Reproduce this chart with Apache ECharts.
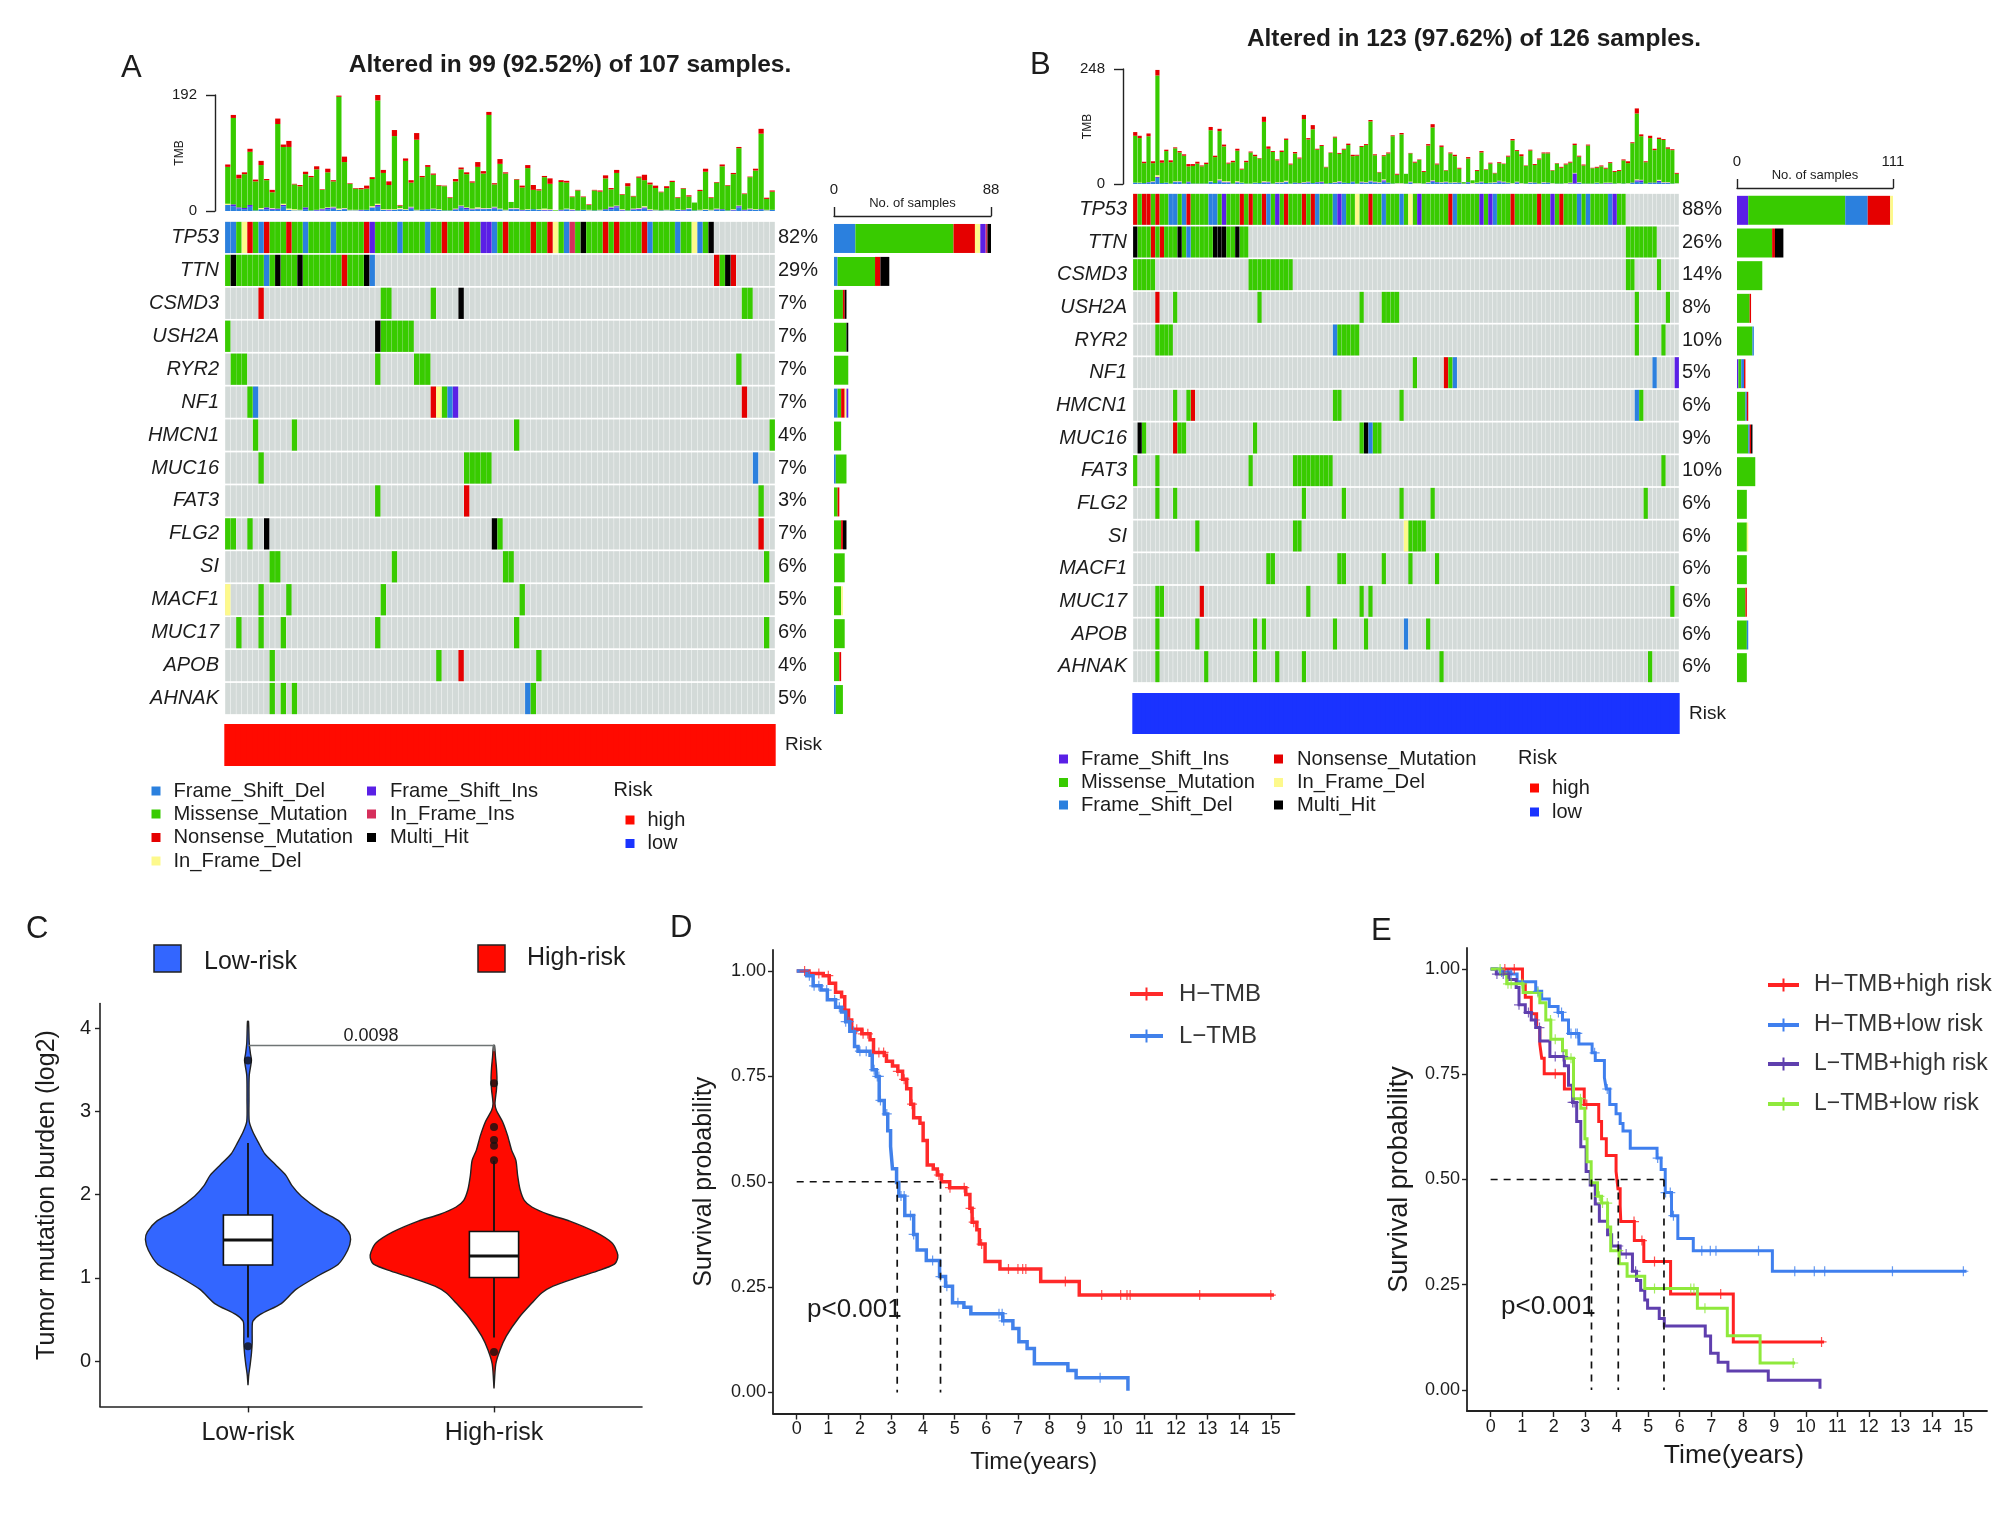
<!DOCTYPE html>
<html><head><meta charset="utf-8">
<script src="https://cdn.jsdelivr.net/npm/echarts@6/dist/echarts.min.js"></script>
<style>html,body{margin:0;padding:0;background:#fff}#c{width:2008px;height:1535px}</style></head>
<body><div id="c"></div>
<script>
const FONT = '"Liberation Sans", Arial, sans-serif';
const COLORS = {D:'#2b80de',M:'#38cb00',N:'#e50000',F:'#fdf98c',I:'#5a20e6',R:'#d62f5c',H:'#000000'};
const NAMES = {D:'Frame_Shift_Del',M:'Missense_Mutation',N:'Nonsense_Mutation',F:'In_Frame_Del',I:'Frame_Shift_Ins',R:'In_Frame_Ins',H:'Multi_Hit'};

// ---------- Panel A ----------
const genesA = ['TP53','TTN','CSMD3','USH2A','RYR2','NF1','HMCN1','MUC16','FAT3','FLG2','SI','MACF1','MUC17','APOB','AHNAK'];
const pctA = ['82%','29%','7%','7%','7%','7%','4%','7%','3%','7%','6%','5%','6%','4%','5%'];
const mutA = [
 'D0-1 M2 F3 N4 M5 D6 N7 M8-10 N11 M12-13 D14 M15-18 D19 M20-24 N25 I26 M27-30 D31 M32-35 D36 M37-38 N39 M40-42 N43 M44-45 I46-47 D48 M49 N50 M51-54 N55 M56-57 N58 F59 M60 D61 R62 M63 H64 M65-67 N68 M69 N70 M71-74 N75 D76 M77-80 D81 M82-83 F84 D85 M86 H87',
 'M0 H1 M2-6 D7 M8 H9 M10-12 H13 M14-20 N21 M22-24 H25 D26 N88 M89 H90 N91',
 'N6 M28-29 M37 H42 M93-94',
 'M0 H27 M28-33',
 'M1-3 M27 M34-36 M92',
 'M4 D5 N37 F38 M39 D40 I41 N93',
 'M5 M12 M52 M98',
 'M6 M43-47 D95',
 'M27 N43 M96',
 'M0-1 M4 H7 H48 M49 N96',
 'M8-9 M30 M50-51 M97',
 'F0 M6 M11 M28 M53',
 'M2 M6 M10 M27 M52 M97',
 'M8 M38 N42 M56',
 'M8 M10 M12 D54 M55'
];
const tmbTotalA = [77,159,60,64,103,52,83,53,35,153, 110,116,45,43,65,58,74,36,70,51, 191,90,46,38,38,42,56,192,68,49, 134,10,87,51,129,58,76,62,43,42, 23,53,72,64,49,81,66,164,46,86, 64,15,53,42,76,43,36,58,54,1, 51,50,24,35,24,11,35,34,59,38, 68,28,46,25,57,60,47,42,32,41, 50,23,38,26,14,35,70,23,48,77, 43,63,106,29,57,70,136,22,34];
const tmbNonsenseA = [4,5,6,3,5,3,7,2,4,9, 4,10,1,2,4,2,5,1,6,2, 2,9,1,1,2,5,3,9,5,6, 10,1,4,4,11,2,3,2,1,1, 1,4,3,3,2,8,4,5,2,8, 2,0,1,3,5,8,2,2,9,0, 3,3,1,1,1,1,1,2,5,2, 5,1,5,1,2,9,3,4,1,3, 2,1,1,2,0,2,5,1,1,3, 1,2,2,1,1,3,8,2,2];
const tmbDelA = [10,8,4,3,7,1,3,3,2,2, 8,2,1,1,3,1,1,1,3,4, 2,3,1,1,1,2,5,7,2,1, 2,3,2,4,1,2,3,2,2,1, 1,2,6,3,2,3,3,4,4,3, 1,3,3,1,2,3,2,1,1,0, 1,3,1,1,2,1,1,1,2,3, 6,1,1,2,2,4,1,1,1,1, 1,2,1,3,1,1,2,1,2,2, 1,1,6,1,2,2,2,1,2];
const tmbInsA = [0,3,2,2,3,0,0,3,2,2, 2,0,0,0,3,0,1,2,2,2, 0,1,0,0,1,0,1,3,0,1, 0,0,0,2,0,0,0,1,0,0, 0,1,2,2,1,1,1,0,2,0, 0,1,1,1,0,0,0,1,1,0, 1,0,1,0,0,0,0,0,1,3, 2,1,0,1,2,2,1,0,0,0, 0,0,1,1,0,0,0,0,1,1, 0,1,2,1,1,0,1,0,0];
const tmbInFrameA = [2,0,0,0,0,0,2,0,1,0, 2,2,2,1,0,0,0,1,1,1, 2,1,1,1,0,0,2,2,1,1, 1,2,1,1,1,0,0,1,1,0, 0,1,1,1,1,2,1,1,1,1, 1,1,1,0,1,0,1,2,1,0, 0,1,1,0,0,1,0,1,0,1, 1,1,0,1,1,2,1,1,0,1, 0,1,0,1,0,1,1,1,1,0, 0,1,1,0,1,1,0,1,0];
const sideOrderA = ['D','M','N','F','I','R','H'];
const sideDelA = [12,2,0,0,0,2,0,1,0,0,0,0,0,0,1];
const sideMisA = [55,21,5,7,8,2,4,6,2,4,6,4,6,3,4];
const sideNonA = [12,3,1,0,0,2,0,0,1,1,0,0,0,1,0];
const sideFraA = [3,0,0,0,0,1,0,0,0,0,0,1,0,0,0];
const sideInsA = [3,0,0,0,0,1,0,0,0,0,0,0,0,0,0];
const sideRinA = [1,0,0,0,0,0,0,0,0,0,0,0,0,0,0];
const sideHitA = [2,5,1,1,0,0,0,0,0,2,0,0,0,0,0];

// ---------- Panel B ----------
const genesB = ['TP53','TTN','CSMD3','USH2A','RYR2','NF1','HMCN1','MUC16','FAT3','FLG2','SI','MACF1','MUC17','APOB','AHNAK'];
const pctB = ['88%','26%','14%','8%','10%','5%','6%','9%','10%','6%','6%','6%','6%','6%','6%'];
const mutB = [
 'N0 M1 N2-3 M4 N5 M6-7 D8-9 M10 D11 N12 M13-16 D17-18 M19 I20 M21-23 N24 M25 N26 M27-28 N29 D30 M31 I32 M33 N34 M35-37 N38 M39 N40 D41 M42-44 D45 I46 D47 M48-49 F50 M51-52 N53 M54-55 D56 M57-59 D60 M61 F62 M63 I64 M65-70 N71 D72 M73-77 I78 M79 I80 D81 M82-84 N85 M86-90 N91 M92-93 I94 M95 N96 M97-99 D100 M101 D102 M103-106 D107 I108 M109-110',
 'H0 M1-3 N4 M5 N6 M7-9 H10 M11 D12 M13-17 H18-20 M21-22 H23 M24-25 M111-117',
 'M0-4 M26-35 M111-112 M118',
 'N5 M9 M28 M51 M56-59 M113 M120',
 'M5-8 D45 M46-50 M113 M119',
 'M63 N70 M71 D72 D117 I122',
 'M9 M12 N13 M45-46 M60 D113 M114',
 'H1 M2 N9 M10-11 M27 M51 H52 D53 M54-55',
 'M0 M5 M26 M36-44 M119',
 'M5 M9 M38 M47 M60 M67 M115',
 'M14 M36-37 F61 M62-65',
 'M30-31 M46-47 M56 M62 M68',
 'M5-6 N15 M39 M51 M53 M121',
 'M5 M14 M27 M29 M45 M52 D61 M66',
 'M5 M16 M27 M32 M38 M69 M116'
];
const tmbTotalB = [112,104,48,109,49,246,51,74,51,79, 71,64,43,43,48,40,46,123,61,119, 85,46,50,76,33,50,70,63,56,145, 81,71,53,72,98,44,69,57,149,99, 127,76,84,37,68,102,67,76,87,63, 63,82,86,138,64,26,62,68,105,22, 110,22,67,48,53,28,86,129,44,83, 30,68,63,35,4,58,8,30,71,32, 46,24,47,44,61,97,73,64,40,74, 43,55,68,68,30,45,37,44,48,87, 61,42,85,35,37,40,35,47,28,30, 53,49,90,163,107,49,104,76,100,97, 79,75,24];
const tmbNonsenseB = [8,5,3,6,4,12,5,3,4,2, 3,3,5,4,4,2,3,7,3,5, 4,2,3,4,2,3,2,3,1,11, 5,2,2,3,3,2,3,2,9,3, 9,2,2,1,1,2,2,2,3,3, 2,2,2,3,2,1,2,2,2,2, 3,0,1,2,1,2,3,7,2,3, 1,2,3,2,0,3,0,2,3,1, 2,1,2,1,2,3,2,4,1,2, 2,2,2,2,1,1,2,2,2,3, 2,2,2,1,2,2,2,2,2,2, 2,4,2,11,4,2,5,3,3,2, 3,2,2];
const tmbDelB = [3,2,2,3,4,13,2,3,1,4, 4,1,3,1,1,1,1,5,2,6, 3,3,1,3,2,1,1,2,2,3, 3,1,2,2,4,1,2,1,2,3, 2,3,2,1,2,2,3,3,2,4, 1,3,2,5,3,2,5,2,1,1, 1,1,3,1,1,1,2,5,3,2, 3,2,2,2,1,3,1,2,3,2, 2,2,4,3,2,1,3,1,1,2, 2,1,2,2,1,1,1,1,1,1, 2,1,1,1,2,1,1,1,1,1, 1,1,2,5,4,1,2,2,4,2, 2,1,1];
const tmbInsB = [0,0,0,1,1,2,0,0,0,1, 1,0,2,0,0,0,0,0,0,2, 1,1,0,1,0,0,0,0,0,1, 1,0,1,1,1,0,1,1,1,1, 0,1,2,0,0,1,2,0,0,1, 0,1,1,1,1,1,3,1,0,0, 0,0,1,0,0,0,1,2,1,1, 1,0,1,1,0,1,0,0,1,0, 0,1,2,1,0,0,1,0,0,1, 1,0,1,1,0,0,0,0,1,22, 1,0,0,0,0,0,1,1,0,0, 0,0,1,3,4,0,1,1,3,1, 1,0,0];
const tmbInFrameB = [0,1,0,0,1,4,0,0,0,1, 1,0,0,0,0,0,0,1,0,2, 2,2,0,2,1,0,0,1,0,2, 1,0,1,1,2,0,0,0,1,1, 0,0,1,0,0,1,1,0,0,0, 0,1,1,1,1,1,2,0,0,1, 1,0,1,1,1,0,1,1,0,1, 1,1,1,0,0,0,1,1,1,0, 1,1,1,1,1,1,1,1,0,1, 0,0,1,0,1,0,0,1,1,1, 1,0,0,0,1,0,1,1,0,1, 0,1,0,2,1,0,0,0,2,1, 1,0,1];
const sideOrderB = ['I','M','D','N','F','H'];
const sideInsB = [8,0,0,0,0,1,0,0,0,0,0,0,0,0,0];
const sideMisB = [69,25,18,9,11,2,6,8,13,7,7,7,6,7,7];
const sideDelB = [16,0,0,0,1,2,1,1,0,0,0,0,0,1,0];
const sideNonB = [16,2,0,1,0,1,1,1,0,0,0,0,1,0,0];
const sideFraB = [2,0,0,0,0,0,0,0,0,0,1,0,0,0,0];
const sideHitB = [0,6,0,0,0,0,0,1,0,0,0,0,0,0,0];

// ---------- Panel C ----------
const violinLowY = [4.08,3.82,3.69,3.61,3.43,3.13,2.88,2.75,2.62,2.49,2.36,2.23,2.11,1.98,1.80,1.68,1.55,1.46,1.33,1.16,1.03,.86,.69,.56,.48,.39,.22,.09,-.04,-.17,-.29];
const violinLowW = [.002,.005,.01,.014,.005,.004,.005,.02,.043,.068,.111,.154,.178,.217,.298,.371,.409,.417,.405,.366,.289,.195,.135,.05,.02,.017,.017,.014,.009,.003,0];
const violinHighY = [3.79,3.65,3.52,3.39,3.26,3.09,3.01,2.88,2.71,2.53,2.41,2.23,2.06,1.93,1.85,1.76,1.68,1.55,1.42,1.31,1.24,1.16,1.08,.99,.90,.82,.69,.52,.30,.13,-.04,-.33];
const violinHighW = [.002,.006,.01,.012,.01,.004,.01,.034,.055,.072,.089,.096,.106,.123,.154,.222,.308,.411,.479,.5,.503,.488,.419,.325,.24,.195,.152,.101,.05,.024,.007,0];
const boxLow = [.283,1.153,1.453,1.754,2.62];
const boxHigh = [.283,1.003,1.26,1.556,2.405];
const outliersLow = [3.61,.176];
const outliersHigh = [3.335,2.81,2.654,2.585,2.41,.107];

// ---------- Panel D ----------
const kmHT = [[0,1],[.39,.994],[.84,.989],[1.03,.971],[1.23,.95],[1.42,.939],[1.52,.907],[1.64,.884],[1.74,.862],[2.06,.851],[2.32,.837],[2.43,.807],[2.77,.8],[2.84,.786],[3.03,.775],[3.2,.762],[3.35,.743],[3.48,.721],[3.61,.684],[3.7,.652],[3.9,.639],[4.0,.598],[4.13,.54],[4.32,.53],[4.45,.516],[4.58,.5],[4.84,.486],[5.35,.47],[5.48,.437],[5.55,.404],[5.7,.386],[5.78,.352],[5.96,.311],[6.43,.293],[7.72,.263],[8.94,.231],[15.1,.231]];
const censorHT = [.25,.7,1.0,1.9,2.1,2.25,2.6,2.75,3.2,3.4,3.65,4.5,4.85,5.3,5.5,5.6,5.85,6.7,7.0,7.15,7.25,8.5,9.65,10.25,10.45,10.55,12.75,15.0];
const kmLT = [[0,1],[.32,.989],[.52,.965],[.77,.955],[.97,.932],[1.23,.914],[1.42,.903],[1.55,.88],[1.68,.857],[1.83,.821],[1.94,.81],[2.32,.8],[2.39,.766],[2.52,.75],[2.61,.693],[2.77,.661],[2.88,.621],[2.97,.584],[3.03,.531],[3.16,.498],[3.23,.466],[3.42,.42],[3.7,.375],[3.81,.338],[4.1,.313],[4.52,.275],[4.71,.252],[4.93,.213],[5.29,.202],[5.51,.187],[6.52,.17],[6.84,.152],[7.03,.12],[7.29,.104],[7.52,.068],[8.58,.052],[8.84,.035],[10.48,.004]];
const censorLT = [.4,.55,.7,.95,1.2,1.35,1.55,1.65,1.8,2.0,2.2,2.45,2.55,2.6,2.65,2.85,3.3,3.4,3.6,3.7,4.3,4.55,4.75,5.1,6.4,6.5,6.55,9.6];
const medianD = [3.18,4.55];

// ---------- Panel E ----------
const kmHH = [[.35,1],[1.01,.965],[1.1,.933],[1.29,.894],[1.46,.861],[1.56,.822],[1.62,.788],[1.7,.751],[2.34,.715],[2.97,.678],[3.43,.638],[3.52,.597],[3.67,.557],[3.98,.519],[4.04,.478],[4.11,.437],[4.13,.4],[4.56,.355],[4.86,.305],[5.71,.228],[7.7,.114],[10.58,.114]];
const censorHH = [.45,.75,2.05,3.05,4.55,4.8,5.2,7.3,10.5];
const kmHL = [[0,1],[.31,.993],[.64,.988],[.84,.97],[1.43,.947],[1.62,.929],[1.86,.911],[2.14,.897],[2.28,.879],[2.47,.847],[2.8,.822],[3.22,.801],[3.32,.783],[3.61,.742],[3.67,.715],[3.78,.678],[3.98,.656],[4.11,.633],[4.2,.615],[4.43,.574],[5.28,.551],[5.41,.524],[5.54,.469],[5.74,.414],[5.94,.36],[6.43,.331],[8.94,.282],[15.1,.282]];
const censorHL = [.35,.65,1.5,2.15,2.25,2.55,2.7,2.75,3.3,3.7,5.3,5.55,5.7,5.8,6.7,6.97,7.15,8.5,9.65,10.27,10.6,12.75,15.0];
const kmLH = [[0,1],[.18,.988],[.58,.975],[.81,.956],[.9,.915],[1.1,.897],[1.29,.879],[1.43,.861],[1.56,.829],[1.88,.792],[2.34,.77],[2.47,.724],[2.6,.683],[2.73,.638],[2.86,.578],[3.03,.519],[3.16,.487],[3.32,.442],[3.45,.401],[3.71,.369],[3.84,.342],[4.11,.323],[4.5,.282],[4.63,.26],[4.76,.237],[4.89,.214],[4.98,.194],[5.35,.17],[5.51,.152],[6.81,.128],[6.98,.087],[7.22,.066],[7.53,.045],[8.81,.023],[10.45,.003]];
const censorLH = [.2,.4,.55,.9,1.2,1.4,1.55,2.05,2.3,2.6,2.65,4.05,4.3,4.6];
const kmLL = [[0,1],[.31,.988],[.51,.965],[1.03,.944],[1.56,.92],[1.75,.879],[1.91,.833],[2.28,.806],[2.4,.788],[2.63,.692],[2.86,.669],[2.99,.597],[3.06,.542],[3.19,.492],[3.39,.46],[3.52,.444],[3.71,.387],[3.81,.331],[4.08,.3],[4.33,.27],[4.89,.241],[6.56,.194],[7.51,.129],[8.55,.064],[9.66,.064]];
const censorLL = [.3,.55,.65,1.0,1.5,1.9,2.05,2.55,2.85,3.45,3.55,3.7,4.05,5.2,6.35,6.45,6.8,9.6];
const medianE = [3.2,4.05,5.5];
const yTicksKM = [0,.25,.5,.75,1];
const yLabelsKM = {0:'0.00',.25:'0.25',.5:'0.50',.75:'0.75',1:'1.00'};
const xTicksKM = [0,1,2,3,4,5,6,7,8,9,10,11,12,13,14,15];

// ---------- Builders ----------
const grid=[],xAxis=[],yAxis=[],series=[],graphic=[];
const ink='#1c1c1c';
function T(x,y,text,size,o={}){graphic.push({type:'text',x,y,rotation:o.rot||0,silent:true,style:{text,fill:o.color||ink,font:`${o.italic?'italic ':''}${o.weight||'normal'} ${size}px ${FONT}`,align:o.align||'left',verticalAlign:'middle'}});}
function S(x,y,w,h,fill,o={}){graphic.push({type:'rect',silent:true,shape:{x,y,width:w,height:h},style:{fill,stroke:o.stroke,lineWidth:o.lw||0}});}
function addGrid(l,t,w,h){grid.push({left:l,top:t,width:w,height:h,containLabel:false});return grid.length-1;}
function parseRuns(strs){const out={};strs.forEach((s,g)=>s.split(' ').forEach(r=>{const c=r[0],[a,b]=r.slice(1).split('-').map(Number);for(let i=a;i<=(b===undefined?a:b);i++)(out[c]=out[c]||[]).push([i,g]);}));return out;}
function cellRender(color,gapX,gapY){return (p,api)=>{const c=api.coord([api.value(0),api.value(1)]),sz=api.size([1,1]);return {type:'rect',shape:{x:c[0]-sz[0]/2+gapX,y:c[1]-sz[1]/2+gapY,width:sz[0]-2*gapX,height:sz[1]-2*gapY},style:{fill:color}};};}

function oncoPanel(c){
  const n=c.total.length;
  // TMB
  let g=addGrid(c.left,c.tmbTop,c.width,c.tmbH);
  xAxis.push({gridIndex:g,type:'category',data:c.total.map((_,i)=>i),show:false});let xi=xAxis.length-1;
  yAxis.push({gridIndex:g,type:'value',min:0,max:c.tmbMax,interval:c.tmbMax,offset:10,splitLine:{show:false},
    axisLine:{show:true,lineStyle:{color:'#222',width:1.4}},axisTick:{show:true,length:9,lineStyle:{color:'#222',width:1.4}},
    axisLabel:{fontSize:15,color:ink,fontFamily:FONT,margin:18},name:'TMB',nameLocation:'middle',nameGap:29,nameMoveOverlap:false,nameTextStyle:{fontSize:12,color:ink,fontFamily:FONT}});
  let yi=yAxis.length-1;
  const mis=c.total.map((t,i)=>Math.max(0,t-c.del[i]-c.ins[i]-c.fra[i]-c.non[i]));
  [['Frame_Shift_Del',c.del,COLORS.D],['Frame_Shift_Ins',c.ins,COLORS.I],['In_Frame_Del',c.fra,COLORS.F],['Missense_Mutation',mis,COLORS.M],['Nonsense_Mutation',c.non,COLORS.N]].forEach(([nm,d,col])=>
    series.push({type:'bar',name:nm,xAxisIndex:xi,yAxisIndex:yi,stack:'tmb'+c.id,data:d,barWidth:'94%',itemStyle:{color:col},silent:true}));
  // matrix
  g=addGrid(c.left,c.top,c.width,c.height);
  xAxis.push({gridIndex:g,type:'value',min:0,max:n,show:false});xi=xAxis.length-1;
  yAxis.push({gridIndex:g,type:'category',inverse:true,data:c.genes,axisLine:{show:false},axisTick:{show:false},axisLabel:{fontSize:20,fontStyle:'italic',color:ink,fontFamily:FONT,margin:6,padding:[2,0,0,0]}});yi=yAxis.length-1;
  yAxis.push({gridIndex:g,type:'category',inverse:true,position:'right',data:c.pct,axisLine:{show:false},axisTick:{show:false},axisLabel:{fontSize:20,color:ink,fontFamily:FONT,margin:3,padding:[2,0,0,0]}});
  const bg=[];for(let y=0;y<c.genes.length;y++)for(let x=0;x<n;x++)bg.push([x+.5,y]);
  series.push({type:'custom',name:'None',xAxisIndex:xi,yAxisIndex:yi,silent:true,clip:false,encode:{x:0,y:1},data:bg,renderItem:cellRender('#d3dad8',.2,.85)});
  const runs=parseRuns(c.mut);
  Object.keys(runs).forEach(k=>series.push({type:'custom',name:NAMES[k],xAxisIndex:xi,yAxisIndex:yi,silent:true,clip:false,encode:{x:0,y:1},data:runs[k].map(([x,y])=>[x+.5,y]),renderItem:cellRender(COLORS[k],.1,.85),z:3}));
  // risk
  g=addGrid(c.left,c.riskTop,c.width,c.riskH);
  xAxis.push({gridIndex:g,type:'value',min:0,max:n,show:false});xi=xAxis.length-1;
  yAxis.push({gridIndex:g,type:'category',position:'right',data:['Risk'],axisLine:{show:false},axisTick:{show:false},axisLabel:{fontSize:19,color:ink,fontFamily:FONT,margin:10,padding:[2,0,0,0]}});yi=yAxis.length-1;
  series.push({type:'custom',name:'Risk',xAxisIndex:xi,yAxisIndex:yi,silent:true,clip:false,encode:{x:0,y:1},data:c.total.map((_,i)=>[i+.5,0]),renderItem:cellRender(c.riskColor,-.7,0)});
  // side
  g=addGrid(c.sideLeft,c.top+1,c.sideW,c.height);
  xAxis.push({gridIndex:g,type:'value',position:'top',min:0,max:c.sideMax,interval:c.sideMax,offset:6,splitLine:{show:false},
    axisLine:{show:true,lineStyle:{color:'#222',width:1.4}},axisTick:{show:true,length:9,lineStyle:{color:'#222',width:1.4}},
    axisLabel:{fontSize:15,color:ink,fontFamily:FONT,margin:19,hideOverlap:false,showMinLabel:true,showMaxLabel:true},
    name:'No. of samples',nameLocation:'middle',nameGap:6,nameMoveOverlap:false,nameTextStyle:{fontSize:13,color:ink,fontFamily:FONT}});xi=xAxis.length-1;
  yAxis.push({gridIndex:g,type:'category',inverse:true,data:c.genes,show:false});yi=yAxis.length-1;
  c.sideOrder.forEach(k=>series.push({type:'bar',name:NAMES[k],xAxisIndex:xi,yAxisIndex:yi,stack:'side'+c.id,data:c.side[k],barWidth:29,itemStyle:{color:COLORS[k]},silent:true}));
}

oncoPanel({id:'A',genes:genesA,pct:pctA,mut:mutA,total:tmbTotalA,del:tmbDelA,ins:tmbInsA,fra:tmbInFrameA,non:tmbNonsenseA,
  left:225,width:550,top:221,height:494,tmbTop:95,tmbH:116,tmbMax:192,riskTop:724,riskH:42,riskColor:'#ff0a00',
  sideLeft:834,sideW:157,sideMax:88,sideOrder:sideOrderA,side:{D:sideDelA,M:sideMisA,N:sideNonA,F:sideFraA,I:sideInsA,R:sideRinA,H:sideHitA}});
oncoPanel({id:'B',genes:genesB,pct:pctB,mut:mutB,total:tmbTotalB,del:tmbDelB,ins:tmbInsB,fra:tmbInFrameB,non:tmbNonsenseB,
  left:1133,width:546,top:193,height:490,tmbTop:69,tmbH:115,tmbMax:248,riskTop:693,riskH:41,riskColor:'#1a33ff',
  sideLeft:1737,sideW:156,sideMax:111,sideOrder:sideOrderB,side:{I:sideInsB,M:sideMisB,D:sideDelB,N:sideNonB,F:sideFraB,H:sideHitB}});

// Titles & oncoplot legends
T(570,65,'Altered in 99 (92.52%) of 107 samples.',24.5,{weight:'bold',align:'center'});
T(1474,39,'Altered in 123 (97.62%) of 126 samples.',24.4,{weight:'bold',align:'center'});
T(121,68,'A',31);T(1030,65,'B',31);T(26,929,'C',31);T(670,928,'D',31);T(1371,931,'E',31);
function oncoLegend(rowY,keys1,keys2,x1,x2,riskX,riskY,hiY,loY){
  keys1.forEach((k,i)=>{S(x1,rowY[i]-4.5,9,9,COLORS[k]);T(x1+22,rowY[i],NAMES[k],20.2);});
  keys2.forEach((k,i)=>{S(x2,rowY[i]-4.5,9,9,COLORS[k]);T(x2+23,rowY[i],NAMES[k],20.2);});
  T(riskX,riskY,'Risk',20);
  S(riskX+12,hiY-4.5,9,9,'#ff0a00');T(riskX+34,hiY,'high',20);
  S(riskX+12,loY-4.5,9,9,'#1a33ff');T(riskX+34,loY,'low',20);
}
oncoLegend([791,814,837.5,861],['D','M','N','F'],['I','R','H'],151.5,367,613.5,790,820,843.5);
oncoLegend([759,782.5,805],['I','M','D'],['N','F','H'],1059,1274,1518,758,788,812);

// ---------- Panel C draw ----------
let gC=addGrid(100,1003.6,542,402.8);
xAxis.push({gridIndex:gC,type:'value',min:-.6016,max:1.6016,splitLine:{show:false},
  axisLine:{show:true,onZero:false,lineStyle:{color:'#222',width:1.6}},axisTick:{show:true,length:6,lineStyle:{color:'#222',width:1.4},customValues:[0,1]},
  axisLabel:{fontSize:25,color:ink,fontFamily:FONT,margin:14,customValues:[0,1],formatter:v=>v===0?'Low-risk':'High-risk'}});
yAxis.push({gridIndex:gC,type:'value',min:-.545,max:4.293,splitLine:{show:false},
  axisLine:{show:true,onZero:false,lineStyle:{color:'#222',width:1.6}},axisTick:{show:true,length:5,lineStyle:{color:'#222',width:1.4},customValues:[0,1,2,3,4]},
  axisLabel:{fontSize:20,color:ink,fontFamily:FONT,margin:9,customValues:[0,1,2,3,4]}});
const xC=xAxis.length-1,yC=yAxis.length-1;
function violin(name,pos,ys,ws,fill,box){
  series.push({type:'custom',name,xAxisIndex:xC,yAxisIndex:yC,silent:true,encode:{x:0,y:1},data:[[pos,box[2]]],z:2,renderItem:(p,api)=>{
    const pts=[];ys.forEach((y,i)=>pts.push(api.coord([pos+ws[i],y])));for(let i=ys.length-1;i>=0;i--)pts.push(api.coord([pos-ws[i],ys[i]]));
    const hw=.1,a=api.coord([pos-hw,box[3]]),b=api.coord([pos+hw,box[1]]),m1=api.coord([pos-hw,box[2]]),m2=api.coord([pos+hw,box[2]]),w1=api.coord([pos,box[4]]),w2=api.coord([pos,box[3]]),w3=api.coord([pos,box[1]]),w4=api.coord([pos,box[0]]);
    const ln=(s,e,w)=>({type:'line',shape:{x1:s[0],y1:s[1],x2:e[0],y2:e[1]},style:{stroke:'#111',lineWidth:w}});
    return {type:'group',children:[
      {type:'polygon',shape:{points:pts,smooth:.25},style:{fill,stroke:'#222',lineWidth:1.4}},
      ln(w1,w2,1.8),ln(w3,w4,1.8),
      {type:'rect',shape:{x:a[0],y:a[1],width:b[0]-a[0],height:b[1]-a[1]},style:{fill:'#fff',stroke:'#111',lineWidth:1.6}},
      ln(m1,m2,3)]};
  }});
}
violin('Low-risk',0,violinLowY,violinLowW,'#3366ff',boxLow);
violin('High-risk',1,violinHighY,violinHighW,'#ff0a00',boxHigh);
series.push({type:'scatter',name:'Low-risk outliers',xAxisIndex:xC,yAxisIndex:yC,silent:true,symbolSize:8,itemStyle:{color:'#111'},z:5,data:outliersLow.map(v=>[0,v])});
series.push({type:'scatter',name:'High-risk outliers',xAxisIndex:xC,yAxisIndex:yC,silent:true,symbolSize:8,itemStyle:{color:'#111'},z:5,data:outliersHigh.map(v=>[1,v])});
series.push({type:'line',name:'p bracket',xAxisIndex:xC,yAxisIndex:yC,silent:true,showSymbol:false,z:4,lineStyle:{color:'#6f7575',width:1.6},data:[[0,3.79],[1,3.79],[1,3.72]]});
T(371,1036,'0.0098',18,{align:'center'});
S(154,945,27,27,'#3366ff',{stroke:'#222',lw:1.5});T(204,962,'Low-risk',25);
S(478,945,27,27,'#ff0a00',{stroke:'#222',lw:1.5});T(527,958,'High-risk',25);
T(47,1195,'Tumor mutation burden (log2)',25,{align:'center',rot:Math.PI/2});

// ---------- KM ----------
function stepAt(curve,t){let s=curve[0][1];for(const [a,b] of curve){if(a<=t)s=b;else break;}return s;}
const PLUS='path://M4.4,0h1.2v4.4h4.4v1.2h-4.4v4.4h-1.2v-4.4h-4.4v-1.2h4.4z';
function kmGrid(l,t,w,h,titleGapX,titleGapY,tsY,tsX,xPad){
  const g=addGrid(l,t,w,h);
  xAxis.push({gridIndex:g,type:'value',min:-.75,max:15.75,splitLine:{show:false},name:'Time(years)',nameLocation:'middle',nameGap:titleGapX,
    nameTextStyle:{fontSize:tsX,color:ink,fontFamily:FONT,padding:[0,0,0,xPad||0]},
    axisLine:{show:true,onZero:false,lineStyle:{color:'#222',width:1.8}},axisTick:{show:true,length:6,lineStyle:{color:'#222',width:1.4},customValues:xTicksKM},
    axisLabel:{fontSize:18,color:ink,fontFamily:FONT,margin:7,customValues:xTicksKM}});
  yAxis.push({gridIndex:g,type:'value',min:-.05,max:1.05,splitLine:{show:false},name:'Survival probability',nameLocation:'middle',nameGap:titleGapY,
    nameTextStyle:{fontSize:tsY,color:ink,fontFamily:FONT},
    axisLine:{show:true,onZero:false,lineStyle:{color:'#222',width:1.8}},axisTick:{show:true,length:5,lineStyle:{color:'#222',width:1.4},customValues:yTicksKM},
    axisLabel:{fontSize:18,color:ink,fontFamily:FONT,margin:7,customValues:yTicksKM,formatter:v=>yLabelsKM[v]}});
  return [xAxis.length-1,yAxis.length-1];
}
function km(ax,name,color,curve,censor,width){
  series.push({type:'line',name,xAxisIndex:ax[0],yAxisIndex:ax[1],silent:true,step:'end',showSymbol:false,clip:false,z:3,lineStyle:{color,width,join:'miter'},data:curve});
  series.push({type:'scatter',name:name+' censored',xAxisIndex:ax[0],yAxisIndex:ax[1],silent:true,symbol:PLUS,symbolSize:10,clip:false,z:4,itemStyle:{color},data:censor.map(t=>[t,stepAt(curve,t)])});
}
function medians(ax,meds){
  const st={color:'#111',width:1.7,type:[7,6]};
  series.push({type:'line',name:'median h',xAxisIndex:ax[0],yAxisIndex:ax[1],silent:true,showSymbol:false,z:5,lineStyle:st,data:[[0,.5],[Math.max(...meds),.5]]});
  meds.forEach((m,i)=>series.push({type:'line',name:'median v'+i,xAxisIndex:ax[0],yAxisIndex:ax[1],silent:true,showSymbol:false,z:5,lineStyle:st,data:[[m,.5],[m,0]]}));
}
function kmLegend(x,items,size,tx){
  items.forEach(([label,color,y])=>{
    S(x,y-2,tx.len,4,color);S(x+tx.len/2-1,y-6.5,2,13,color);
    T(tx.x,y,label,size,{color:'#333'});
  });
}
const axD=kmGrid(773,950,521.5,463.5,37,56,25,24);
km(axD,'H\u2212TMB','#ff2a2a',kmHT,censorHT,3.5);
km(axD,'L\u2212TMB','#4181ea',kmLT,censorLT,3.5);
medians(axD,medianD);
T(807,1310,'p<0.001',26);
kmLegend(1130,[['H\u2212TMB','#ff2a2a',994],['L\u2212TMB','#4181ea',1036]],24,{len:33,x:1179});

const axE=kmGrid(1467,948,520,463,31,54,27,26.5,14);
km(axE,'H\u2212TMB+high risk','#ff2222',kmHH,censorHH,3);
km(axE,'H\u2212TMB+low risk','#3f7fee',kmHL,censorHL,3);
km(axE,'L\u2212TMB+high risk','#5f3fae',kmLH,censorLH,3);
km(axE,'L\u2212TMB+low risk','#8fe93c',kmLL,censorLL,3);
medians(axE,medianE);
T(1501,1307,'p<0.001',26);
kmLegend(1768,[['H\u2212TMB+high risk','#ff2222',985],['H\u2212TMB+low risk','#3f7fee',1025],['L\u2212TMB+high risk','#5f3fae',1064],['L\u2212TMB+low risk','#8fe93c',1104]],23,{len:31,x:1814});

const chart=echarts.init(document.getElementById('c'),null,{renderer:'canvas'});
chart.setOption({animation:false,backgroundColor:'#fff',textStyle:{fontFamily:FONT},grid,xAxis,yAxis,series,graphic});
</script></body></html>
